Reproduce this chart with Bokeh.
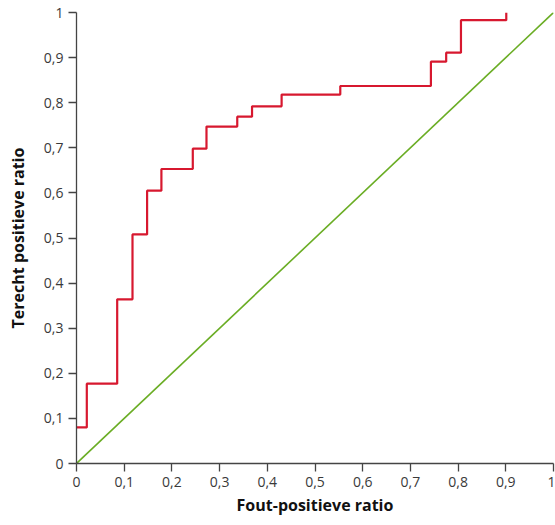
from bokeh.plotting import figure
from bokeh.models import FixedTicker, Range1d
from bokeh.embed import file_html
from bokeh.resources import INLINE

# ROC step curve: x where each step occurs, y after the step
fpr = [0.0, 0.0216, 0.0853, 0.1174, 0.148, 0.178, 0.2438, 0.2725, 0.337,
       0.368, 0.430, 0.553, 0.743, 0.775, 0.806, 0.901]
tpr = [0.080, 0.177, 0.364, 0.508, 0.605, 0.653, 0.698, 0.747, 0.769,
       0.792, 0.818, 0.837, 0.891, 0.911, 0.983, 1.0]

diag_x = [0.0, 1.0]
diag_y = [0.0, 1.0]

tick_values = [0.0, 0.1, 0.2, 0.3, 0.4, 0.5, 0.6, 0.7, 0.8, 0.9, 1.0]
tick_labels = ["0", "0,1", "0,2", "0,3", "0,4", "0,5", "0,6", "0,7", "0,8", "0,9", "1"]

x_title = "Fout-positieve ratio"
y_title = "Terecht positieve ratio"

p = figure(width=555, height=525, output_backend="svg", toolbar_location=None,
           x_range=Range1d(0, 1), y_range=Range1d(0, 1),
           min_border_left=76, min_border_right=2, min_border_top=12, min_border_bottom=62)
p.outline_line_color = None
p.grid.visible = False
p.background_fill_color = "white"

p.line(diag_x, diag_y, line_color="#6aad24", line_width=1.6)
p.step(fpr, tpr, mode="after", line_color="#d7182f", line_width=2.2)

overrides = dict(zip(tick_values, tick_labels))
for ax in (p.xaxis[0], p.yaxis[0]):
    ax.ticker = FixedTicker(ticks=tick_values)
    ax.major_label_overrides = overrides
    ax.minor_tick_line_color = None
    ax.major_tick_in = 0
    ax.major_tick_out = 8
    ax.axis_line_color = "#444444"
    ax.major_tick_line_color = "#444444"
    ax.axis_line_width = 1.3
    ax.major_tick_line_width = 1.3
    ax.major_label_text_font = "Open Sans"
    ax.major_label_text_font_size = "14px"
    ax.major_label_text_color = "#3a3a3a"
    ax.major_label_standoff = 5
    ax.axis_label_text_font = "Open Sans"
    ax.axis_label_text_font_style = "bold"
    ax.axis_label_text_font_size = "16px"
    ax.axis_label_text_color = "#111111"

p.xaxis.axis_label = x_title
p.yaxis.axis_label = y_title
p.xaxis.axis_label_standoff = 4
p.yaxis.axis_label_standoff = 12

open("out.html", "w").write(file_html(p, INLINE))
